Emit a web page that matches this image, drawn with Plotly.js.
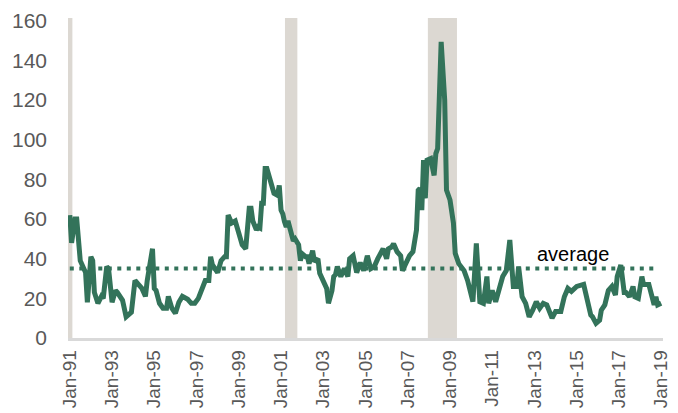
<!DOCTYPE html>
<html>
<head>
<meta charset="utf-8">
<script src="https://cdn.plot.ly/plotly-3.0.1.min.js"></script>
<style>html,body{margin:0;padding:0;background:#fff;}#chart{width:678px;height:413px;}</style>
</head>
<body>
<div id="chart"></div>
<script>
// Series (month, value)
const dates = [
 '1991-01','1991-02','1991-04','1991-05','1991-07','1991-10','1991-11','1992-01','1992-02','1992-03',
 '1992-05','1992-07','1992-08','1992-10','1992-11','1993-01','1993-03','1993-04','1993-07','1993-09',
 '1993-12','1994-02','1994-04','1994-06','1994-08','1994-09','1994-12','1995-01','1995-02','1995-04',
 '1995-06','1995-08','1995-09','1995-11','1996-01','1996-03','1996-05','1996-08','1996-10','1996-12',
 '1997-02','1997-04','1997-06','1997-08','1997-09','1997-10','1998-01','1998-03','1998-05','1998-06',
 '1998-07','1998-09','1998-11','1999-01','1999-03','1999-05','1999-06','1999-07','1999-08','1999-09',
 '1999-11','1999-12','2000-01','2000-02','2000-03','2000-04','2000-05','2000-07','2000-08','2000-09',
 '2000-11','2000-12','2001-01','2001-02','2001-03','2001-04','2001-05','2001-07','2001-08','2001-09',
 '2001-11','2001-12','2002-01','2002-03','2002-04','2002-05','2002-07','2002-08','2002-10','2002-11',
 '2003-01','2003-03','2003-04','2003-06','2003-07','2003-08','2003-09','2003-11','2004-01','2004-03',
 '2004-04','2004-06','2004-08','2004-10','2004-12','2005-02','2005-04','2005-06','2005-08','2005-11',
 '2006-01','2006-02','2006-04','2006-05','2006-07','2006-09','2006-10','2006-12','2007-02','2007-04',
 '2007-06','2007-07','2007-08','2007-09','2007-10','2007-11','2007-12','2008-02','2008-04','2008-05',
 '2008-06','2008-08','2008-10','2008-11','2009-01','2009-03','2009-04','2009-06','2009-09','2009-11',
 '2009-12','2010-02','2010-04','2010-06','2010-08','2010-10','2010-11','2011-01','2011-03','2011-05',
 '2011-07','2011-09','2011-11','2012-01','2012-03','2012-04','2012-06','2012-08','2012-10','2012-12',
 '2013-02','2013-04','2013-06','2013-08','2013-11','2014-01','2014-04','2014-06','2014-08','2014-10',
 '2015-01','2015-05','2015-07','2015-09','2015-10','2015-12','2016-02','2016-03','2016-05','2016-07',
 '2016-09','2016-11','2016-12','2017-02','2017-04','2017-05','2017-07','2017-09','2017-10','2017-12',
 '2018-02','2018-03','2018-06','2018-09','2018-10','2018-11','2019-01'
];
const values = [
 62,48,60,60,39,33,18,41,39,23,
 17.5,21,20,36,35,18,24,23,19,10.7,
 13,29,27,25,21,29,45,25,24,17.5,
 15,15,21,15,12.5,18,21,19.5,17.5,17.5,
 20,24,29,29,41,37,33,39,41,41,
 62,58,59,53,47,45,54.5,65.5,65.5,59,
 54.5,56,55.5,68,68,85.5,85.5,79.7,75,73,
 72,77,64.5,62.5,58.7,56,59,53,49,50,
 47,39,42.5,41,41,37.5,44,38.5,40,32.6,
 29,25,17.5,24,31,32,36,31,35,31,
 40,41.5,33,38,34,41.5,35,36,40,45,
 40,45,46,47.5,43.5,41.5,34,38.5,41.5,43.5,
 54.5,74.5,75.5,64.5,89.7,70.4,89.7,90.5,82,93,
 95.6,149.4,120,74.6,69.6,58,42.7,37.5,34,29,
 26,18.3,47.7,18.3,17.5,31,17.5,24,18.3,24,
 31,34,49.4,26,26,36,20.8,17.5,10.7,14,
 18.3,15,17.5,16.7,10,13.4,13.4,20.8,25,23.5,
 26,27,19.5,11.6,10.7,7.4,9,14,16.7,24,
 26,21.7,31,36.8,23,23,20.8,26,20.8,20,
 31,27,27,16.7,20.8,16.7,17.5
];
const averageValue = 35;
const averageStart = '1991-01';
const averageEnd = '2018-09';
const averageLabel = 'average';
// Recession periods
const recessionStarts = ['1990-12-01','2001-03-10','2007-12-15'];
const recessionEnds   = ['1991-02-15','2001-10-10','2009-05-01'];
// Tick labels
const tickDates = [];
const tickLabels = [];
for (let y = 1991; y <= 2019; y += 2) {
  tickDates.push(y + '-01-01');
  tickLabels.push('Jan-' + String(y % 100).padStart(2, '0'));
}

const green = '#33735a';
const shapes = recessionStarts.map((s, i) => ({
  type: 'rect', xref: 'x', yref: 'paper', x0: s, x1: recessionEnds[i], y0: 0, y1: 1,
  fillcolor: '#dcd8d2', line: {width: 0}, layer: 'below'
}));

const traces = [
  {x: [averageStart, averageEnd], y: [averageValue, averageValue], mode: 'lines',
   line: {color: green, width: 4, dash: '4px,5.5px'}, hoverinfo: 'skip'},
  {x: dates, y: values, mode: 'lines', line: {color: green, width: 5}}
];

const layout = {
  width: 678, height: 413,
  margin: {l: 68, r: 15, t: 18, b: 75},
  paper_bgcolor: '#fff', plot_bgcolor: '#fff',
  showlegend: false,
  font: {family: 'Liberation Sans, Arial, sans-serif', color: '#595959', size: 20},
  xaxis: {
    type: 'date', range: ['1990-12-01', '2019-02-01'],
    tickvals: tickDates, ticktext: tickLabels, tickangle: -90,
    showgrid: false, zeroline: false, showline: true, linecolor: '#d9d9d9', linewidth: 2.5,
    ticks: '', ticklabelstandoff: 2,
    tickfont: {size: 19, color: '#595959'}
  },
  yaxis: {
    range: [0, 161.4], tickvals: [0,20,40,60,80,100,120,140,160],
    showgrid: false, zeroline: false, showline: false, ticks: '', ticklabelstandoff: 20,
    tickfont: {size: 21, color: '#595959'}
  },
  shapes: shapes,
  annotations: [{
    x: '2014-11-01', y: 42.4, xref: 'x', yref: 'y', text: averageLabel, showarrow: false,
    xanchor: 'center', yanchor: 'middle', font: {size: 20, color: '#000'}
  }]
};

Plotly.newPlot('chart', traces, layout, {staticPlot: true, displayModeBar: false});
</script>
</body>
</html>
